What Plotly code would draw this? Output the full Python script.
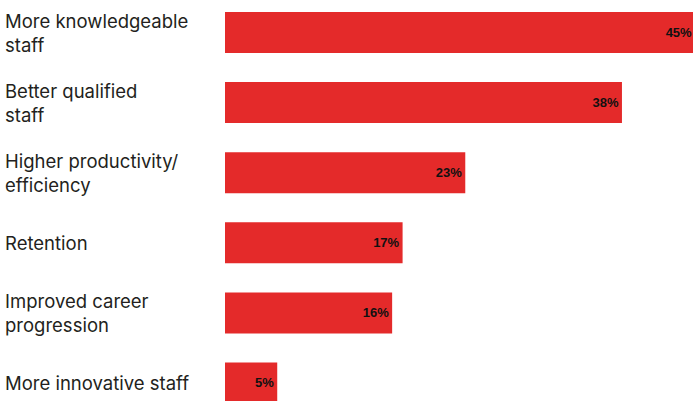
import plotly.graph_objects as go

# Survey results: benefits reported from training
categories = [
    "More knowledgeable<br>staff",
    "Better qualified<br>staff",
    "Higher productivity/<br>efficiency",
    "Retention",
    "Improved career<br>progression",
    "More innovative staff",
]
values = [45, 38, 23, 17, 16, 5]
value_labels = [f"{v}%" for v in values]

BAR_RED = "#E42A2A"
TEXT_DARK = "#231F20"

fig = go.Figure(
    go.Bar(
        x=values,
        y=list(range(len(categories))),
        orientation="h",
        marker=dict(color=BAR_RED, line=dict(width=0)),
        text=value_labels,
        textposition="inside",
        insidetextanchor="end",
        textangle=0,
        insidetextfont=dict(family="Liberation Sans", size=13, color="#111111", weight="bold"),
        width=0.585,
        cliponaxis=True,
        hoverinfo="skip",
    )
)

# Category labels on the left, left-aligned
for i, cat in enumerate(categories):
    fig.add_annotation(
        x=0, xref="paper", xanchor="left", xshift=-222,
        y=i, yref="y", yanchor="middle",
        text=cat, showarrow=False, align="left",
        font=dict(family="Inter", size=18.5, color=TEXT_DARK),
    )

fig.update_layout(
    width=693, height=401,
    margin=dict(l=225, r=0, t=0, b=0),
    paper_bgcolor="white", plot_bgcolor="white",
    showlegend=False,
    xaxis=dict(range=[0, 44.8], visible=False, fixedrange=True),
    yaxis=dict(range=[5.2568, -0.4636], visible=False, fixedrange=True),
)

fig.write_html("out.html")
